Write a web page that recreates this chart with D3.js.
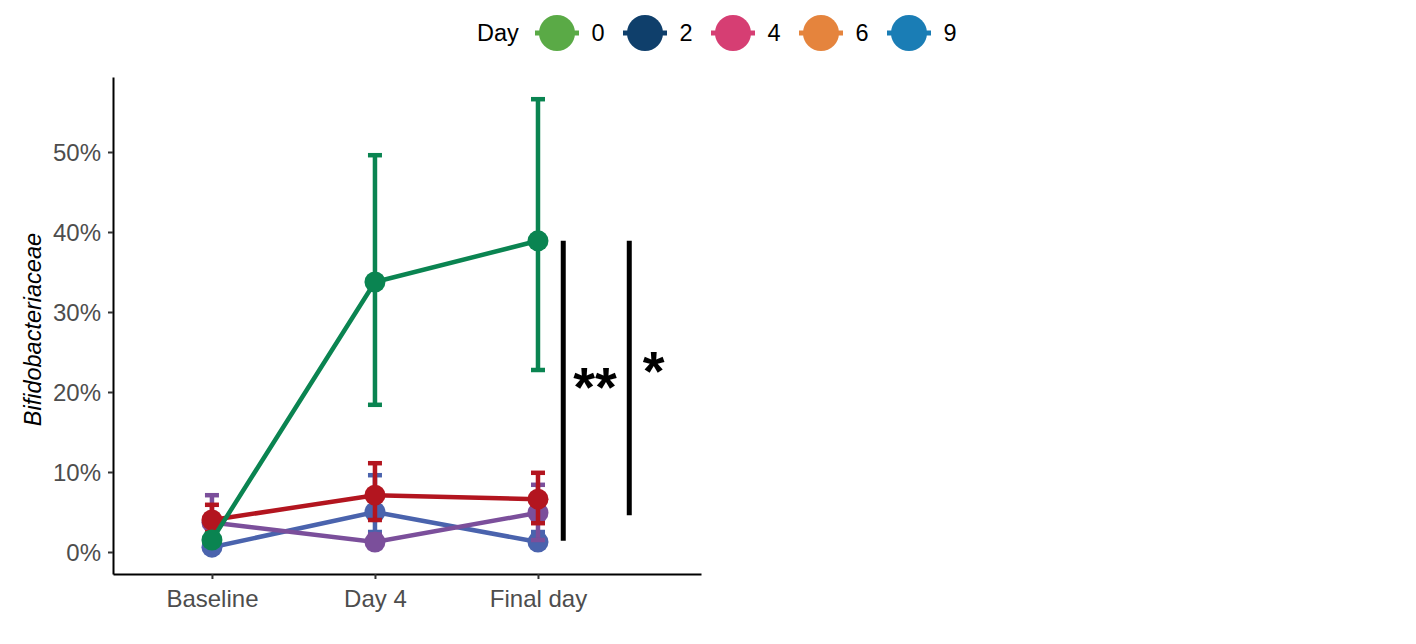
<!DOCTYPE html>
<html>
<head>
<meta charset="utf-8">
<script src="https://cdn.jsdelivr.net/npm/d3@7"></script>
<style>
  body { margin: 0; background: #fff; }
  svg { font-family: Arial, "Liberation Sans", sans-serif; }
</style>
</head>
<body>
<svg></svg>
<script>
// time points on the x axis
let timepoints = ['Baseline', 'Day 4', 'Final day'];
let yTicks = [0, 10, 20, 30, 40, 50];

// mean and error bar limits (percent), one array per group
let blueMean   = [0.6, 5.0, 1.25],
    blueLow    = [0.2, 2.5, 0.6],
    blueHigh   = [1.2, 9.6, 2.5];
let purpleMean = [3.7, 1.25, 4.9],
    purpleLow  = [0.8, 0.5, 1.5],
    purpleHigh = [7.1, 2.2, 8.4];
let redMean    = [4.0, 7.1, 6.6],
    redLow     = [2.5, 4.0, 3.6],
    redHigh    = [5.9, 11.1, 9.9];
let greenMean  = [1.5, 33.75, 38.9],
    greenLow   = [0.8, 18.4, 22.75],
    greenHigh  = [2.3, 49.6, 56.6];

// legend entries
let legendDays   = ['0', '2', '4', '6', '9'];
let legendColors = ['#5aaa46', '#0f3f6b', '#d63e73', '#e5843d', '#1a7db5'];

// significance bars: x position, top / bottom in percent, label position
let sigX      = [3.155, 3.56],
    sigTop    = [38.9, 38.9],
    sigBottom = [1.4, 4.6],
    sigLabel  = ['**', '*'],
    sigLabelX = [3.35, 3.71],
    sigLabelY = [18.3, 20.2];

let width  = 1416,
    height = 644;

let series = [
  { color: '#4a63ad', mean: blueMean,   low: blueLow,   high: blueHigh },
  { color: '#7b4f9b', mean: purpleMean, low: purpleLow, high: purpleHigh },
  { color: '#b3151f', mean: redMean,    low: redLow,    high: redHigh },
  { color: '#0a8451', mean: greenMean,  low: greenLow,  high: greenHigh }
];

let svg = d3.select('svg')
    .attr('width', width)
    .attr('height', height);

let xScale = d3.scaleLinear()
                .domain([0.393, 4.0])
                .range([113, 701]),
    yScale = d3.scaleLinear()
                .domain([-2.75, 59.375])
                .range([574, 77]);

//X Axis
let xAxis = d3.axisBottom(xScale)
    .tickValues([1, 2, 3])
    .tickFormat(i => timepoints[i - 1])
    .tickSize(5)
    .tickSizeOuter(0);

let gx = svg.append('g')
    .attr('transform', `translate(0, ${yScale.range()[0]})`)
    .call(xAxis);

//Y Axis
let yAxis = d3.axisLeft(yScale)
    .tickValues(yTicks)
    .tickFormat(d => d + '%')
    .tickSize(5)
    .tickSizeOuter(0);

let gy = svg.append('g')
    .attr('transform', `translate(${xScale.range()[0]}, 0)`)
    .call(yAxis);

[gx, gy].forEach(g => {
  g.select('.domain').attr('stroke', '#000').attr('stroke-width', 2);
  g.selectAll('.tick line').attr('stroke', '#333').attr('stroke-width', 2);
  g.selectAll('.tick text')
    .attr('fill', '#4d4d4d')
    .attr('font-size', 24);
});
gx.selectAll('.tick text').attr('dy', '1.05em');
gy.selectAll('.tick text').attr('dy', '0.35em').attr('x', -12);

// y axis title
svg.append('text')
    .attr('transform', 'rotate(-90)')
    .attr('x', -(yScale(27.8)))
    .attr('y', 41)
    .attr('font-size', 23.5)
    .attr('font-style', 'italic')
    .style('text-anchor', 'middle')
    .text('Bifidobacteriaceae');

// groups: line, error bars, points
let line = d3.line()
    .x((d, i) => xScale(i + 1))
    .y(d => yScale(d));

let capHalf = 7;

series.forEach(s => {
  let g = svg.append('g');

  g.append('path')
    .datum(s.mean)
    .attr('d', line)
    .attr('fill', 'none')
    .attr('stroke', s.color)
    .attr('stroke-width', 4.5);

  let bars = g.selectAll('.err')
    .data(s.mean.map((m, i) => ({ i: i + 1, lo: s.low[i], hi: s.high[i] })))
    .enter()
    .append('g');

  bars.append('line')
    .attr('x1', d => xScale(d.i))
    .attr('x2', d => xScale(d.i))
    .attr('y1', d => yScale(d.lo))
    .attr('y2', d => yScale(d.hi));
  bars.append('line')
    .attr('x1', d => xScale(d.i) - capHalf)
    .attr('x2', d => xScale(d.i) + capHalf)
    .attr('y1', d => yScale(d.hi))
    .attr('y2', d => yScale(d.hi));
  bars.append('line')
    .attr('x1', d => xScale(d.i) - capHalf)
    .attr('x2', d => xScale(d.i) + capHalf)
    .attr('y1', d => yScale(d.lo))
    .attr('y2', d => yScale(d.lo));
  bars.selectAll('line')
    .attr('stroke', s.color)
    .attr('stroke-width', 4.5);

  g.selectAll('circle')
    .data(s.mean)
    .enter()
    .append('circle')
      .attr('cx', (d, i) => xScale(i + 1))
      .attr('cy', d => yScale(d))
      .attr('r', 10.5)
      .attr('fill', s.color);
});

// significance bars
sigX.forEach((x, i) => {
  svg.append('line')
    .attr('x1', xScale(x))
    .attr('x2', xScale(x))
    .attr('y1', yScale(sigTop[i]))
    .attr('y2', yScale(sigBottom[i]))
    .attr('stroke', '#000')
    .attr('stroke-width', 5);
  svg.append('text')
    .attr('x', xScale(sigLabelX[i]))
    .attr('y', yScale(sigLabelY[i]))
    .attr('font-size', 56)
    .attr('font-weight', 'bold')
    .style('text-anchor', 'middle')
    .text(sigLabel[i]);
});

// legend
let legend = svg.append('g');
legend.append('text')
    .attr('x', 477)
    .attr('y', 33)
    .attr('dy', '0.35em')
    .attr('font-size', 23.5)
    .text('Day');

let legendX = d3.scaleLinear()
    .domain([0, legendDays.length - 1])
    .range([557, 909]);

let keys = legend.selectAll('.key')
  .data(legendDays)
  .enter()
  .append('g')
    .attr('transform', (d, i) => `translate(${legendX(i)}, 33)`);

keys.append('line')
    .attr('x1', -22)
    .attr('x2', 22)
    .attr('stroke', (d, i) => legendColors[i])
    .attr('stroke-width', 5);
keys.append('circle')
    .attr('r', 18)
    .attr('fill', (d, i) => legendColors[i]);
keys.append('text')
    .attr('x', 41)
    .attr('dy', '0.35em')
    .attr('font-size', 23.5)
    .style('text-anchor', 'middle')
    .text(d => d);
</script>
</body>
</html>
